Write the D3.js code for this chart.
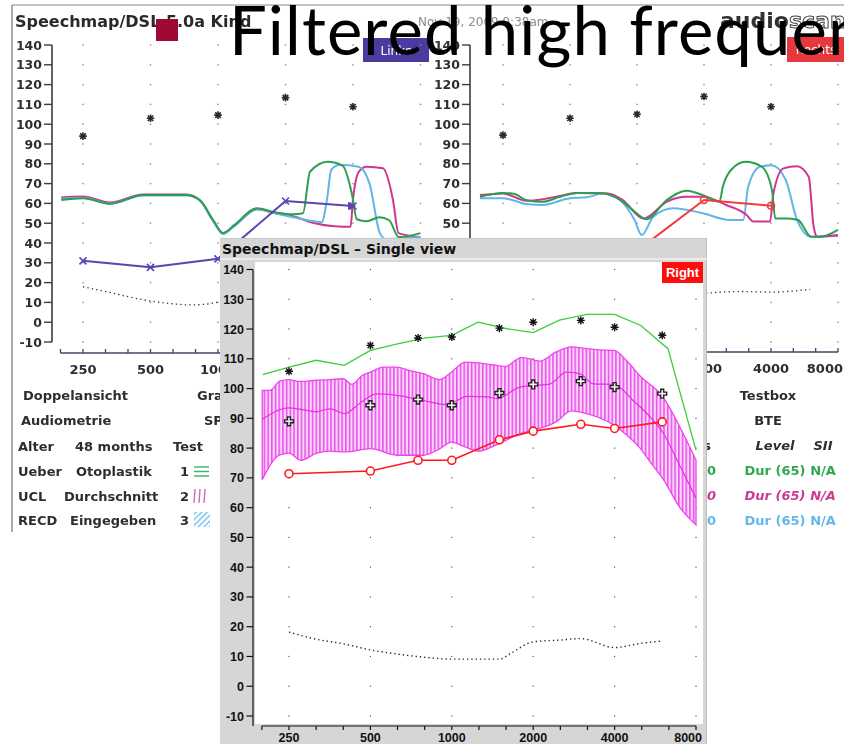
<!DOCTYPE html>
<html>
<head>
<meta charset="utf-8">
<script src="https://cdn.jsdelivr.net/npm/d3@7"></script>
<style>
  html, body { margin: 0; padding: 0; background: #fff; }
  svg { display: block; }
</style>
</head>
<body>
<svg id="slide" width="844" height="744"></svg>
<script>
// ---------- shared axis values ----------
const octaveTicks = [250, 500, 1000, 2000, 4000, 8000];
const octaveLabels = ["250", "500", "1000", "2000", "4000", "8000"];
const dbTicks = [-10, 0, 10, 20, 30, 40, 50, 60, 70, 80, 90, 100, 110, 120, 130, 140];
const thirdOctaveSteps = [-1, 0, 1, 2, 3, 4, 5, 6, 7, 8, 9, 10, 11, 12, 13, 14, 15];

// ---------- scanned two-ear view (background) ----------
const bgTargetFreqs = [250, 500, 1000, 2000, 4000];
const leftTargets = [94, 103, 104.6, 113.4, 108.8];
const rightTargets = [94.5, 103, 105, 114, 108.8];

const leftGreen = [[200,61.7],[250,62.6],[330,59.8],[464,64.2],[725,64.2],[830,61.7],[951,51.6],[1052,45],[1180,49],[1493,57.5],[1800,55.5],[2160,54.5],[2393,55],[2573,76],[3087,81],[3601,79],[3952,65],[4160,52],[4600,51],[5250,53],[5800,51.5],[6400,43],[8000,45]];
const leftBlue = [[200,62.3],[250,62.8],[330,60],[464,64],[725,64],[830,61.5],[951,51],[1052,44.5],[1180,48.5],[1493,57],[1800,55],[2160,53],[2500,51.5],[2900,50.5],[3063,62],[3200,77],[3500,79.5],[4240,78.5],[4740,70],[5270,45],[5600,42],[8000,43]];
const leftMagenta = [[200,63],[250,63.5],[330,60.5],[464,64.5],[725,64.5],[830,61.5],[951,51.5],[1052,45],[1180,48.5],[1493,57],[1800,55],[2160,53.5],[2700,50],[3300,48.5],[3900,48.2],[4000,62],[4250,76],[4600,78.5],[5440,77.7],[6030,61.7],[6380,45],[8000,43]];
const leftDotted = [[250,17.9],[315,15.5],[400,12.8],[500,10.7],[630,9.3],[750,8.7],[900,9.2],[1000,10],[1500,10],[2000,14],[3000,15.5],[4000,14.5],[6000,16]];
const leftAided = [[250,31],[500,27.7],[1000,32],[2000,61.2],[4000,58.7]];

const rightGreen = [[197,63.4],[250,65.3],[280,64.9],[319,61.6],[376,60.8],[450,63.3],[537,65.3],[682,65.3],[836,61.9],[958,56.6],[1103,52],[1358,61.6],[1670,66.4],[1976,64.2],[2348,60.9],[2430,68.4],[2650,77],[3075,81],[3640,78.5],[4040,66.7],[4180,52.4],[4790,52.4],[5290,51.6],[6060,43.2],[6690,43.2],[8000,46.6]];
const rightBlue = [[197,62.6],[250,62.6],[319,59.7],[376,59.2],[500,62.6],[595,63.1],[706,65.1],[836,61.8],[975,51.6],[1050,44],[1185,53.3],[1455,57.5],[1976,55],[2605,51.6],[3000,51.6],[3160,68.4],[3560,78.5],[4030,79.3],[4660,71.8],[5240,51.6],[6060,43.2],[8000,43.5]];
const rightMagenta = [[197,64.2],[250,65],[319,61.3],[430,63.3],[537,65.3],[740,65],[860,61.8],[1070,52.4],[1359,60.8],[1667,63.3],[1976,63.3],[2516,59.2],[3110,54.1],[3330,50.8],[3960,50.8],[4100,65],[4550,77.7],[5230,78.8],[5910,73.5],[6220,48.2],[6450,43.2],[8000,44]];
const rightDotted = [[250,18],[500,11],[1000,9],[1500,9],[2000,14.5],[3000,15.5],[4000,15.2],[6000,16.6]];
const rightAided = [[1000,36],[2000,61.7],[4000,58.8]];

// ---------- single view (foreground) ----------
const targetFreqs = [250, 500, 750, 1000, 1500, 2000, 3000, 4000, 6000];
const uclTargets = [105.8, 114.5, 117, 117.3, 120.3, 122.3, 122.9, 120.6, 117.9];
const speechTargets = [89, 94.4, 96.3, 94.4, 98.5, 101.4, 102.5, 100.5, 98.3];
const aidedResponse = [71.4, 72.3, 75.9, 75.9, 82.8, 85.7, 88, 86.6, 88.8];

const mpoCurve = [[200,104.7],[250,107.2],[315,109.5],[400,107.8],[500,112.8],[630,115],[800,117],[1000,117.9],[1250,122.3],[1600,120.1],[2000,118.8],[2500,123],[3150,124.9],[4000,124.9],[5000,121.2],[6300,113.4],[8000,79.3]];
const speechUpper = [[199,99.4],[213,99.4],[231,102.5],[250,103],[274,102.4],[315,102.8],[354,103],[397,103.3],[426,101.4],[466,104.4],[500,105.5],[559,107.2],[626,107.2],[700,106],[784,105],[904,103],[996,105.5],[1120,108.9],[1254,108.6],[1405,108],[1578,107.4],[1805,110.4],[1995,109.7],[2110,109.2],[2430,112.3],[2770,114],[3150,113.4],[3530,113],[3980,112.8],[4420,109.5],[4970,104.2],[6055,97],[6980,87],[8000,76]];
const speechMid = [[199,89.7],[250,93.5],[277,93],[315,92.2],[354,93.2],[403,91.6],[456,95],[527,98.2],[626,97.7],[784,96],[959,94.6],[1141,97.4],[1353,97.2],[1470,96.6],[1784,100.5],[1995,101],[2305,101.5],[2650,105.5],[2970,105],[3330,101.6],[3980,101.4],[4680,96],[5410,90.5],[6055,85],[6980,74],[8000,63.2]];
const speechLower = [[199,69.4],[231,77.7],[250,78.3],[277,75.9],[315,78.2],[354,79],[403,78.7],[500,79.8],[626,77.6],[784,77.6],[904,79.8],[996,82],[1120,80.4],[1254,79],[1496,81.5],[1784,84.8],[1995,86],[2430,88.8],[2770,92.5],[3150,91.6],[3980,87.7],[4420,84.5],[4970,80],[5500,74.5],[6055,69.5],[6980,60],[8000,54.2]];
const thresholdCurve = [[250,18.2],[315,15.8],[400,14.2],[500,12.2],[630,10.8],[800,9.7],[1000,9.1],[1250,9.1],[1500,9.1],[1650,11],[2000,14.9],[2500,15.5],[3000,16],[4000,13],[5000,14.4],[6000,15.2]];

// ---------- helpers ----------
const svg = d3.select("#slide");
const SCAN_FONT = "'DejaVu Sans', Verdana, sans-serif";
const ARIAL = "'Liberation Sans', Arial, sans-serif";

function asteriskPath(cx, cy, r) {
  const d = r * 0.72;
  return `M${cx - r},${cy}L${cx + r},${cy}M${cx},${cy - r}L${cx},${cy + r}` +
         `M${cx - d},${cy - d}L${cx + d},${cy + d}M${cx - d},${cy + d}L${cx + d},${cy - d}`;
}
function crossPath(cx, cy, r) {
  return `M${cx - r},${cy - r}L${cx + r},${cy + r}M${cx - r},${cy + r}L${cx + r},${cy - r}`;
}

const defs = svg.append("defs");
defs.append("filter").attr("id", "scanSoft")
  .append("feGaussianBlur").attr("stdDeviation", 0.35);

const hatch = defs.append("pattern").attr("id", "hatch")
  .attr("patternUnits", "userSpaceOnUse").attr("width", 3.7).attr("height", 8);
hatch.append("rect").attr("width", 3.7).attr("height", 8).attr("fill", "#fcd9fc");
hatch.append("rect").attr("x", 1.1).attr("width", 1.3).attr("height", 8).attr("fill", "#e633e6");

const blueHatch = defs.append("pattern").attr("id", "blueHatch")
  .attr("patternUnits", "userSpaceOnUse").attr("width", 4).attr("height", 4)
  .attr("patternTransform", "rotate(45)");
blueHatch.append("rect").attr("width", 1.4).attr("height", 4).attr("fill", "#6cc0ec");

// ===================== background scan =====================
const bg = svg.append("g").attr("filter", "url(#scanSoft)");

// frame
bg.append("line").attr("x1", 12).attr("x2", 844).attr("y1", 5).attr("y2", 5)
  .attr("stroke", "#8a8494").attr("stroke-width", 1.2);
bg.append("line").attr("x1", 12).attr("x2", 12).attr("y1", 5).attr("y2", 532)
  .attr("stroke", "#77737f").attr("stroke-width", 1.2);

bg.append("text").attr("x", 15).attr("y", 27)
  .attr("font-family", SCAN_FONT).attr("font-weight", "bold").attr("font-size", 16)
  .attr("fill", "#2c2c2c").text("Speechmap/DSL 5.0a Kind");
bg.append("text").attr("x", 418).attr("y", 26)
  .attr("font-family", SCAN_FONT).attr("font-size", 12).attr("fill", "#8c8c8c")
  .text("Nov 19, 2009 9:38am");
const logo = bg.append("text").attr("x", 720).attr("y", 28)
  .attr("font-family", SCAN_FONT).attr("font-weight", "bold").attr("font-size", 22);
logo.append("tspan").attr("fill", "#333").text("audio");
logo.append("tspan").attr("fill", "#fff").attr("stroke", "#444").attr("stroke-width", 1).text("scan");

// ear badges
bg.append("rect").attr("x", 363).attr("y", 38).attr("width", 66).attr("height", 24).attr("fill", "#4b3b9f");
bg.append("text").attr("x", 396).attr("y", 55).attr("text-anchor", "middle")
  .attr("font-family", SCAN_FONT).attr("font-size", 12).attr("fill", "#fff").text("Links");
bg.append("rect").attr("x", 787).attr("y", 37).attr("width", 60).attr("height", 25).attr("fill", "#e6373c");
bg.append("text").attr("x", 816).attr("y", 54).attr("text-anchor", "middle")
  .attr("font-family", SCAN_FONT).attr("font-size", 12).attr("fill", "#fff").text("Rechts");

const by = d3.scaleLinear().domain([-10, 140]).range([342, 45]);

function drawScanChart(g, x, axisX, axisY, curves, dotted, aided, aidedColor, aidedMarker, targets, endArrow) {
  // grid dots
  octaveTicks.forEach(f => dbTicks.forEach(v => {
    g.append("rect").attr("x", x(f) - 0.7).attr("y", by(v) - 0.7)
      .attr("width", 1.4).attr("height", 1.4).attr("fill", "#8a8a8a");
  }));
  // y axis
  g.append("line").attr("x1", axisX).attr("x2", axisX).attr("y1", by(140)).attr("y2", by(-10))
    .attr("stroke", "#3c3c3c").attr("stroke-width", 1.6);
  dbTicks.forEach(v => {
    g.append("line").attr("x1", axisX - 8).attr("x2", axisX).attr("y1", by(v)).attr("y2", by(v))
      .attr("stroke", "#3c3c3c").attr("stroke-width", 1.4);
    g.append("text").attr("x", axisX - 10).attr("y", by(v) + 4.5).attr("text-anchor", "end")
      .attr("font-family", SCAN_FONT).attr("font-weight", "bold").attr("font-size", 12.5)
      .attr("fill", "#2e2e2e").text(v);
  });
  // x axis
  const f0 = 250 * Math.pow(2, -1 / 3);
  g.append("line").attr("x1", x(f0)).attr("x2", x(8000)).attr("y1", axisY).attr("y2", axisY)
    .attr("stroke", "#4c4066").attr("stroke-width", 1.6);
  thirdOctaveSteps.forEach(i => {
    const fx = x(250 * Math.pow(2, i / 3));
    g.append("line").attr("x1", fx).attr("x2", fx).attr("y1", axisY - 4).attr("y2", axisY)
      .attr("stroke", "#4c4066").attr("stroke-width", 1.3);
  });
  // threshold (dotted)
  const line = d3.line().x(d => x(d[0])).y(d => by(d[1])).curve(d3.curveMonotoneX);
  g.append("path").attr("d", line(dotted)).attr("fill", "none")
    .attr("stroke", "#333").attr("stroke-width", 1.3).attr("stroke-dasharray", "1.3,3.2");
  // filtered responses
  curves.forEach(c => {
    g.append("path").attr("d", line(c.data)).attr("fill", "none")
      .attr("stroke", c.color).attr("stroke-width", 2);
  });
  // aided line
  const straight = d3.line().x(d => x(d[0])).y(d => by(d[1]));
  g.append("path").attr("d", straight(aided)).attr("fill", "none")
    .attr("stroke", aidedColor).attr("stroke-width", 2);
  aided.forEach(d => {
    if (aidedMarker === "x") {
      g.append("path").attr("d", crossPath(x(d[0]), by(d[1]), 3.5)).attr("stroke", aidedColor)
        .attr("stroke-width", 1.6).attr("fill", "none");
    } else {
      g.append("circle").attr("cx", x(d[0])).attr("cy", by(d[1])).attr("r", 3.5)
        .attr("fill", "none").attr("stroke", aidedColor).attr("stroke-width", 1.6);
    }
  });
  if (endArrow) {
    const last = aided[aided.length - 1];
    const ax = x(last[0]), ay = by(last[1]);
    g.append("path").attr("d", `M${ax + 3},${ay}L${ax - 5},${ay - 4}L${ax - 5},${ay + 4}Z`)
      .attr("fill", aidedColor);
  }
  // UCL asterisks
  bgTargetFreqs.forEach((f, i) => {
    g.append("path").attr("d", asteriskPath(x(f), by(targets[i]), 3.8))
      .attr("stroke", "#2a2a2a").attr("stroke-width", 1.6).attr("fill", "none");
  });
  // octave labels
  octaveTicks.forEach((f, i) => {
    const t = g.append("text").attr("y", axisY + 21)
      .attr("font-family", SCAN_FONT).attr("font-weight", "bold").attr("font-size", 13)
      .attr("fill", "#2e2e2e").text(octaveLabels[i]);
    if (f === 8000 && x(8000) > 800) t.attr("x", 843).attr("text-anchor", "end");
    else t.attr("x", x(f)).attr("text-anchor", "middle");
  });
}

const lx = d3.scaleLog().domain([250, 8000]).range([83, 420.5]);
const rx = d3.scaleLog().domain([250, 8000]).range([503, 838]);

drawScanChart(bg.append("g"), lx, 52, 353,
  [{ data: leftMagenta, color: "#d2358f" }, { data: leftBlue, color: "#62b6e6" }, { data: leftGreen, color: "#2c9f4e" }],
  leftDotted, leftAided, "#5b44b0", "x", leftTargets, true);
drawScanChart(bg.append("g"), rx, 470, 352,
  [{ data: rightBlue, color: "#62b6e6" }, { data: rightMagenta, color: "#d2358f" }, { data: rightGreen, color: "#2c9f4e" }],
  rightDotted, rightAided, "#ee3c3c", "o", rightTargets, false);

// info table under the scan
const info = bg.append("g").attr("font-family", SCAN_FONT).attr("font-weight", "bold")
  .attr("font-size", 13).attr("fill", "#2e2e2e");
const infoRows = [
  [23, 400, "Doppelansicht"], [197, 400, "Grafik"],
  [21, 425, "Audiometrie"], [204, 425, "SPL"],
  [18, 451, "Alter"], [75, 451, "48 months"], [173, 451, "Test"],
  [18, 476, "Ueber"], [76, 476, "Otoplastik"], [180, 476, "1"],
  [18, 501, "UCL"], [64, 501, "Durchschnitt"], [180, 501, "2"],
  [18, 525, "RECD"], [70, 525, "Eingegeben"], [180, 525, "3"]
];
infoRows.forEach(r => info.append("text").attr("x", r[0]).attr("y", r[1]).text(r[2]));
// legend swatches
[0, 1, 2].forEach(i => info.append("line").attr("x1", 194).attr("x2", 209)
  .attr("y1", 467 + i * 4.5).attr("y2", 467 + i * 4.5).attr("stroke", "#3bb063").attr("stroke-width", 1.4));
[0, 1, 2].forEach(i => info.append("line").attr("x1", 195 + i * 5).attr("x2", 194 + i * 5)
  .attr("y1", 489).attr("y2", 503).attr("stroke", "#d06ab0").attr("stroke-width", 1.4));
info.append("rect").attr("x", 194).attr("y", 512).attr("width", 16).attr("height", 15).attr("fill", "url(#blueHatch)");

const infoR = bg.append("g").attr("font-family", SCAN_FONT).attr("font-weight", "bold").attr("font-size", 13);
infoR.append("text").attr("x", 768).attr("y", 400).attr("text-anchor", "middle").attr("fill", "#2e2e2e").text("Testbox");
infoR.append("text").attr("x", 768).attr("y", 425).attr("text-anchor", "middle").attr("fill", "#2e2e2e").text("BTE");
infoR.append("text").attr("x", 711).attr("y", 450).attr("text-anchor", "end").attr("fill", "#2e2e2e").text("Filters");
infoR.append("text").attr("x", 775).attr("y", 450).attr("text-anchor", "middle").attr("font-style", "italic").attr("fill", "#2e2e2e").text("Level");
infoR.append("text").attr("x", 823).attr("y", 450).attr("text-anchor", "middle").attr("font-style", "italic").attr("fill", "#2e2e2e").text("SII");
const levelRows = [
  { y: 475, color: "#2fa84f", cut: "1250", italic: false },
  { y: 500, color: "#cc3a95", cut: "2000", italic: true },
  { y: 525, color: "#62b8e8", cut: "3000", italic: false }
];
levelRows.forEach(r => {
  const st = r.italic ? "italic" : "normal";
  infoR.append("text").attr("x", 716).attr("y", r.y).attr("text-anchor", "end").attr("font-style", st).attr("fill", r.color).text(r.cut);
  infoR.append("text").attr("x", 775).attr("y", r.y).attr("text-anchor", "middle").attr("font-style", st).attr("fill", r.color).text("Dur (65)");
  infoR.append("text").attr("x", 823).attr("y", r.y).attr("text-anchor", "middle").attr("font-style", st).attr("fill", r.color).text("N/A");
});

// ===================== slide heading =====================
svg.append("rect").attr("x", 156).attr("y", 19).attr("width", 22).attr("height", 22).attr("fill", "#9d0a33");
svg.append("text").attr("x", 229).attr("y", 55)
  .attr("font-family", "Lato, 'Open Sans', sans-serif").attr("font-size", 67)
  .attr("letter-spacing", 1.1).attr("fill", "#000")
  .text("Filtered high frequencies");

// ===================== single view panel =====================
const panel = svg.append("g");
panel.append("rect").attr("x", 220).attr("y", 238).attr("width", 487).attr("height", 506).attr("fill", "#d6d6d6");
panel.append("line").attr("x1", 220).attr("x2", 707).attr("y1", 238.5).attr("y2", 238.5).attr("stroke", "#c8c8c8");
panel.append("line").attr("x1", 706.5).attr("x2", 706.5).attr("y1", 238).attr("y2", 744).attr("stroke", "#bdbdbd");
panel.append("text").attr("x", 222).attr("y", 254)
  .attr("font-family", SCAN_FONT).attr("font-weight", "bold").attr("font-size", 14).attr("fill", "#111")
  .text("Speechmap/DSL \u2013 Single view");
panel.append("line").attr("x1", 220).attr("x2", 707).attr("y1", 259).attr("y2", 259).attr("stroke", "#f2f2f2").attr("stroke-width", 1.5);
panel.append("rect").attr("x", 255).attr("y", 262).attr("width", 448).attr("height", 462).attr("fill", "#fff");

const fx = d3.scaleLog().domain([250, 8000]).range([289, 696]);
const fy = d3.scaleLinear().domain([-10, 140]).range([716, 269.5]);

// grid dots
octaveTicks.forEach(f => dbTicks.forEach(v => {
  panel.append("rect").attr("x", fx(f) - 0.6).attr("y", fy(v) - 0.6)
    .attr("width", 1.2).attr("height", 1.2).attr("fill", "#555");
}));

// y axis
panel.append("line").attr("x1", 253).attr("x2", 253).attr("y1", fy(140)).attr("y2", 726)
  .attr("stroke", "#111").attr("stroke-width", 1.2);
dbTicks.forEach(v => {
  panel.append("line").attr("x1", 246.5).attr("x2", 253).attr("y1", fy(v)).attr("y2", fy(v))
    .attr("stroke", "#111").attr("stroke-width", 1.2);
  panel.append("text").attr("x", 244).attr("y", fy(v) + 4.5).attr("text-anchor", "end")
    .attr("font-family", ARIAL).attr("font-weight", "bold").attr("font-size", 12.5).attr("fill", "#111")
    .text(v);
});
// x axis
panel.append("line").attr("x1", fx(250 * Math.pow(2, -1 / 3))).attr("x2", fx(8000))
  .attr("y1", 726).attr("y2", 726).attr("stroke", "#111").attr("stroke-width", 1.2);
thirdOctaveSteps.forEach(i => {
  const x = fx(250 * Math.pow(2, i / 3));
  panel.append("line").attr("x1", x).attr("x2", x).attr("y1", 726).attr("y2", 730)
    .attr("stroke", "#111").attr("stroke-width", 1.2);
});
octaveTicks.forEach((f, i) => {
  const t = panel.append("text").attr("y", 742)
    .attr("font-family", ARIAL).attr("font-weight", "bold").attr("font-size", 12.5).attr("fill", "#111")
    .text(octaveLabels[i]);
  if (f === 8000) t.attr("x", 702).attr("text-anchor", "end");
  else t.attr("x", fx(f)).attr("text-anchor", "middle");
});

// speech band
const smooth = d3.line().x(d => fx(d[0])).y(d => fy(d[1])).curve(d3.curveMonotoneX);
const bandPath = smooth(speechUpper) + "L" + smooth(speechLower.slice().reverse()).slice(1) + "Z";
panel.append("path").attr("d", bandPath).attr("fill", "url(#hatch)")
  .attr("stroke", "#ee44ee").attr("stroke-width", 1.3);
panel.append("path").attr("d", smooth(speechMid)).attr("fill", "none")
  .attr("stroke", "#e82ee8").attr("stroke-width", 1.2);

// threshold
panel.append("path").attr("d", smooth(thresholdCurve)).attr("fill", "none")
  .attr("stroke", "#222").attr("stroke-width", 1.4).attr("stroke-dasharray", "1.3,3");

// output limit curve
const straight = d3.line().x(d => fx(d[0])).y(d => fy(d[1]));
panel.append("path").attr("d", straight(mpoCurve)).attr("fill", "none")
  .attr("stroke", "#3ccd3c").attr("stroke-width", 1.3);

// aided response
const aidedPts = targetFreqs.map((f, i) => [f, aidedResponse[i]]);
panel.append("path").attr("d", straight(aidedPts)).attr("fill", "none")
  .attr("stroke", "#ff1a1a").attr("stroke-width", 1.6);
panel.selectAll(".aided").data(aidedPts).enter().append("circle")
  .attr("cx", d => fx(d[0])).attr("cy", d => fy(d[1])).attr("r", 4)
  .attr("fill", "#fff").attr("stroke", "#ff1a1a").attr("stroke-width", 1.6);

// target markers
targetFreqs.forEach((f, i) => {
  panel.append("path").attr("d", asteriskPath(fx(f), fy(uclTargets[i]), 4))
    .attr("stroke", "#111").attr("stroke-width", 1.4).attr("fill", "none");
  panel.append("path").attr("transform", `translate(${fx(f)},${fy(speechTargets[i])})`)
    .attr("d", d3.symbol().type(d3.symbolCross).size(44)())
    .attr("fill", "#f4f4f4").attr("stroke", "#222").attr("stroke-width", 1.4);
});

// ear badge
panel.append("rect").attr("x", 662).attr("y", 262).attr("width", 41).attr("height", 21).attr("fill", "#ff0d0d");
panel.append("text").attr("x", 682.5).attr("y", 277).attr("text-anchor", "middle")
  .attr("font-family", ARIAL).attr("font-weight", "bold").attr("font-size", 13).attr("fill", "#fff")
  .text("Right");
</script>
</body>
</html>
